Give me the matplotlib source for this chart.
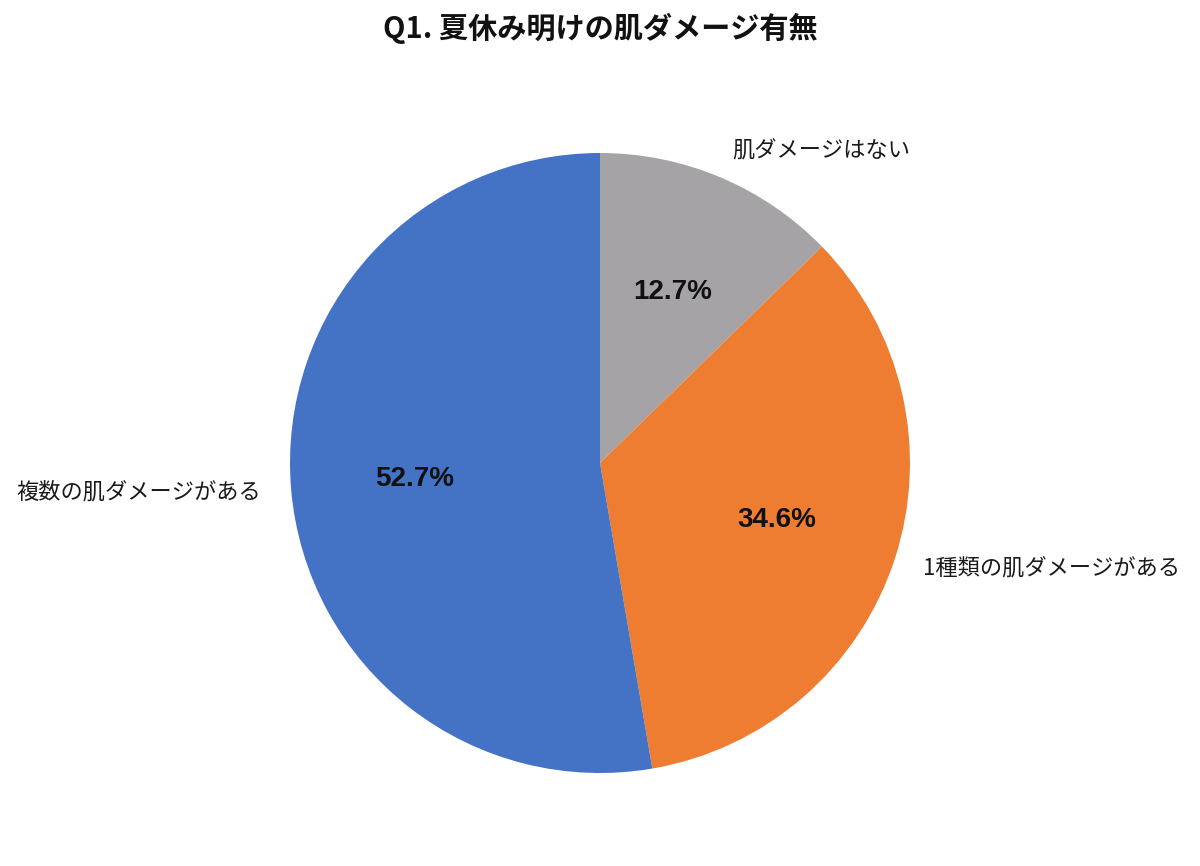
import matplotlib
matplotlib.use('Agg')
import matplotlib.pyplot as plt

plt.rcParams['font.family'] = ['Noto Sans CJK JP', 'DejaVu Sans']

# data, clockwise from top
labels = ['肌ダメージはない', '1種類の肌ダメージがある', '複数の肌ダメージがある']
values = [12.7, 34.6, 52.7]
colors = ['#a5a3a6', '#ee7d31', '#4472c4']
title = 'Q1. 夏休み明けの肌ダメージ有無'

fig = plt.figure(figsize=(12, 8.66), dpi=100)
ax = fig.add_axes([0, 0, 1, 1])

# pie centred at the origin so label alignment works out (left/right)
wedges, texts, autotexts = ax.pie(
    values, labels=labels, colors=colors,
    startangle=90, counterclock=False,
    radius=310,
    labeldistance=1.097, pctdistance=0.6,
    autopct='%.1f%%',
    wedgeprops={'linewidth': 0},
    textprops={'fontsize': 16, 'color': '#1a1a1a'},
)
for t in autotexts:
    t.set_fontfamily(['Liberation Sans', 'DejaVu Sans'])
    t.set_fontweight('bold')
    t.set_fontsize(20)
    t.set_color('#111111')

# centre sits at pixel (600, 463) from top-left
ax.set_xlim(-600, 600)
ax.set_ylim(-403, 463)
ax.set_aspect('equal')
ax.axis('off')

fig.text(0.5, 1 - 28 / 866, title, ha='center', va='center',
         fontsize=21, fontweight='bold', color='#111111')

fig.savefig('out.png', dpi=100)
